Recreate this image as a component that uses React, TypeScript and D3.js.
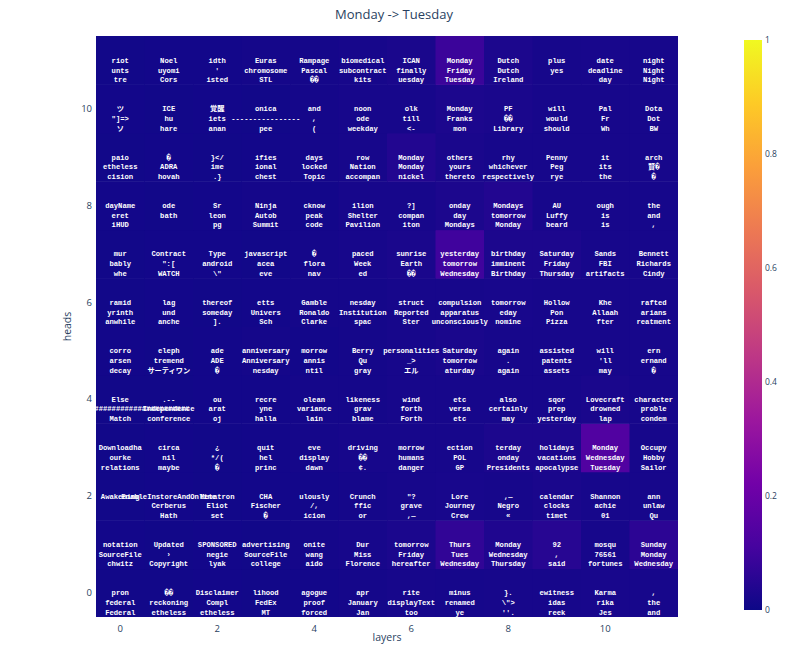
import { useEffect, useRef } from "react"
import * as d3 from "d3"

// layers along x, heads along y
const layers = d3.range(12)
const heads = d3.range(12)
const xTicks = [0, 2, 4, 6, 8, 10]
const yTicks = [0, 2, 4, 6, 8, 10]
const barTicks = [0, 0.2, 0.4, 0.6, 0.8, 1]

// plotly "Plasma"
const plasma = ["#0d0887", "#46039f", "#7201a8", "#9c179e", "#bd3786", "#d8576b", "#ed7953", "#fb9f3a", "#fdca26", "#f0f921"]

// probability of the target token, one array per head (index = layer)
const head0Values = [0.01, 0.01, 0.012, 0.01, 0.012, 0.015, 0.02, 0.018, 0.02, 0.02, 0.022, 0.02]
const head1Values = [0.012, 0.01, 0.012, 0.01, 0.015, 0.02, 0.028, 0.07, 0.035, 0.05, 0.02, 0.06]
const head2Values = [0.01, 0.012, 0.01, 0.012, 0.012, 0.015, 0.02, 0.022, 0.02, 0.025, 0.02, 0.02]
const head3Values = [0.01, 0.012, 0.01, 0.012, 0.015, 0.02, 0.02, 0.02, 0.03, 0.03, 0.14, 0.02]
const head4Values = [0.01, 0.01, 0.012, 0.012, 0.015, 0.015, 0.02, 0.02, 0.02, 0.02, 0.025, 0.02]
const head5Values = [0.012, 0.01, 0.012, 0.015, 0.012, 0.015, 0.02, 0.025, 0.02, 0.02, 0.02, 0.02]
const head6Values = [0.01, 0.012, 0.01, 0.012, 0.015, 0.015, 0.02, 0.02, 0.022, 0.02, 0.02, 0.02]
const head7Values = [0.01, 0.012, 0.012, 0.01, 0.015, 0.02, 0.025, 0.1, 0.03, 0.03, 0.02, 0.02]
const head8Values = [0.012, 0.01, 0.012, 0.015, 0.012, 0.02, 0.02, 0.03, 0.04, 0.02, 0.02, 0.018]
const head9Values = [0.01, 0.012, 0.01, 0.012, 0.015, 0.02, 0.04, 0.025, 0.02, 0.02, 0.02, 0.02]
const head10Values = [0.012, 0.01, 0.012, 0.01, 0.015, 0.02, 0.02, 0.03, 0.025, 0.02, 0.02, 0.02]
const head11Values = [0.01, 0.012, 0.012, 0.015, 0.015, 0.02, 0.025, 0.09, 0.03, 0.02, 0.022, 0.02]
const values = [head0Values, head1Values, head2Values, head3Values, head4Values, head5Values,
  head6Values, head7Values, head8Values, head9Values, head10Values, head11Values]

// top-3 decoded tokens, one array per head (index = layer), lines split by "\n"
const head0Tokens = ["pron\nfederal\nFederal", "��\nreckoning\netheless", "Disclaimer\nCompl\netheless", "lihood\nFedEx\nMT", "agogue\nproof\nforced", "apr\nJanuary\nJan", "rite\ndisplayText\ntoo", "minus\nrenamed\nye", "}.\n\\\">\n''.", "ewitness\nidas\nreek", "Karma\nrika\nJes", ",\nthe\nand"]
const head1Tokens = ["notation\nSourceFile\nchwitz", "Updated\n›\nCopyright", "SPONSORED\nnegie\nlyak", "advertising\nSourceFile\ncollege", "onite\nwang\naido", "Dur\nMiss\nFlorence", "tomorrow\nFriday\nhereafter", "Thurs\nTues\nWednesday", "Monday\nWednesday\nThursday", "92\n,\nsaid", "mosqu\n76561\nfortunes", "Sunday\nMonday\nWednesday"]
const head2Tokens = ["Awakening\n\n", "EnableInstoreAndOnline\nCerberus\nHath", "Metatron\nEliot\nset", "CHA\nFischer\n�", "ulously\n/,\nicion", "Crunch\nffic\nor", "\"?\ngrave\n,—", "Lore\nJourney\nCrew", ",—\nNegro\n«", "calendar\nclocks\ntimet", "Shannon\nachie\n01", "ann\nunlaw\nQu"]
const head3Tokens = ["Downloadha\nourke\nrelations", "circa\nnil\nmaybe", "¿\n*/(\n�", "quit\nhel\nprinc", "eve\ndisplay\ndawn", "driving\n��\n¢.", "morrow\nhumans\ndanger", "ection\nPOL\nGP", "terday\nonday\nPresidents", "holidays\nvacations\napocalypse", "Monday\nWednesday\nTuesday", "Occupy\nHobby\nSailor"]
const head4Tokens = ["Else\n################################\nMatch", ".--\nIndependence\nconference", "ou\narat\noj", "recre\nyne\nhalla", "olean\nvariance\nlain", "likeness\ngrav\nblame", "wind\nforth\nForth", "etc\nversa\netc", "also\ncertainly\nmay", "sqor\nprep\nyesterday", "Lovecraft\ndrowned\nlap", "character\nproble\ncondem"]
const head5Tokens = ["corro\narsen\ndecay", "eleph\ntremend\nサーティワン", "ade\nADE\n�", "anniversary\nAnniversary\nnesday", "morrow\nannis\nntil", "Berry\nQu\ngray", "personalities\n_>\nエル", "Saturday\ntomorrow\naturday", "again\n.\nagain", "assisted\npatents\nassets", "will\n'll\nmay", "ern\nernand\n�"]
const head6Tokens = ["ramid\nyrinth\nanwhile", "lag\nund\nanche", "thereof\nsomeday\n].", "etts\nUnivers\nSch", "Gamble\nRonaldo\nClarke", "nesday\nInstitution\nspac", "struct\nReported\nSter", "compulsion\napparatus\nunconsciously", "tomorrow\neday\nnomine", "Hollow\nPon\nPizza", "Khe\nAllaah\nfter", "rafted\narians\nreatment"]
const head7Tokens = ["mur\nbably\nwhe", "Contract\n\":[\nWATCH", "Type\nandroid\n\\\"", "javascript\nacea\neve", "�\nflora\nnav", "paced\nWeek\ned", "sunrise\nEarth\n��", "yesterday\ntomorrow\nWednesday", "birthday\nimminent\nBirthday", "Saturday\nFriday\nThursday", "Sands\nFBI\nartifacts", "Bennett\nRichards\nCindy"]
const head8Tokens = ["dayName\neret\niHUD", "ode\nbath\n", "Sr\nleon\npg", "Ninja\nAutob\nSummit", "cknow\npeak\ncode", "ilion\nShelter\nPavilion", "?]\ncompan\niton", "onday\nday\nMondays", "Mondays\ntomorrow\nMonday", "AU\nLuffy\nbeard", "ough\nis\nis", "the\nand\n,"]
const head9Tokens = ["paio\netheless\ncision", "�\nADRA\nhovah", "}</\nime\n.}", "ifies\nional\nchest", "days\nlocked\nTopic", "row\nNation\naccompan", "Monday\nMonday\nnickel", "others\nyours\nthereto", "rhy\nwhichever\nrespectively", "Penny\nPeg\nrye", "it\nits\nthe", "arch\n賢�\n�"]
const head10Tokens = ["ツ\n\"]=>\nソ", "ICE\nhu\nhare", "覚醒\niets\nanan", "onica\n----------------\npee", "and\n,\n(", "noon\node\nweekday", "olk\ntill\n<-", "Monday\nFranks\nmon", "PF\n��\nLibrary", "will\nwould\nshould", "Pal\nFr\nWh", "Dota\nDot\nBW"]
const head11Tokens = ["riot\nunts\ntre", "Noel\nuyomi\nCors", "idth\n'\nisted", "Euras\nchromosome\nSTL", "Rampage\nPascal\n��", "biomedical\nsubcontract\nkits", "ICAN\nfinally\nuesday", "Monday\nFriday\nTuesday", "Dutch\nDutch\nIreland", "plus\nyes\n", "date\ndeadline\nday", "night\nNight\nNight"]
const tokens = [head0Tokens, head1Tokens, head2Tokens, head3Tokens, head4Tokens, head5Tokens,
  head6Tokens, head7Tokens, head8Tokens, head9Tokens, head10Tokens, head11Tokens]

const width = 788
const height = 666
const margin = { top: 36, right: 110, bottom: 49, left: 96 }
const labelColor = "#2a3f5f"
const uiFont = "'Open Sans', 'Noto Sans', sans-serif"

export default function App() {
  const svgRef = useRef<SVGSVGElement>(null)

  useEffect(() => {
    if (!svgRef.current) return
    const svg = d3.select(svgRef.current)
    svg.selectAll("*").remove()

    const x = d3.scaleLinear().domain([-0.5, 11.5]).range([margin.left, width - margin.right])
    const y = d3.scaleLinear().domain([-0.5, 11.5]).range([height - margin.bottom, margin.top])
    const color = d3.scaleLinear<string>()
      .domain(d3.range(plasma.length).map((i) => i / (plasma.length - 1)))
      .range(plasma)
      .interpolate(d3.interpolateRgb)
      .clamp(true)

    svg.append("rect").attr("width", width).attr("height", height).attr("fill", "#fff")

    const defs = svg.append("defs")
    defs.append("clipPath").attr("id", "plot-clip")
      .append("rect")
      .attr("x", x(-0.5)).attr("y", y(11.5))
      .attr("width", x(11.5) - x(-0.5)).attr("height", y(-0.5) - y(11.5))

    const cells = heads.flatMap((h) => layers.map((l) => ({ h, l, v: values[h][l], t: tokens[h][l] })))

    const plot = svg.append("g").attr("clip-path", "url(#plot-clip)")

    plot.selectAll("rect.cell")
      .data(cells)
      .enter()
      .append("rect")
      .attr("class", "cell")
      .attr("x", (d) => x(d.l - 0.5))
      .attr("y", (d) => y(d.h + 0.5))
      .attr("width", x(0.5) - x(-0.5) + 0.5)
      .attr("height", y(-0.5) - y(0.5) + 0.5)
      .attr("fill", (d) => color(d.v))

    const lineGap = 9.7
    const txt = plot.selectAll("text.cell-text")
      .data(cells)
      .enter()
      .append("text")
      .attr("class", "cell-text")
      .attr("text-anchor", "middle")
      .attr("font-family", "'Liberation Mono', 'DejaVu Sans Mono', 'Noto Sans CJK JP', monospace")
      .attr("font-size", 7.2)
      .attr("font-weight", "bold")
      .attr("fill", "#fff")
    txt.selectAll("tspan")
      .data((d) => d.t.split("\n").map((s, i) => ({ s, i, d })))
      .enter()
      .append("tspan")
      .attr("x", (p) => x(p.d.l))
      .attr("y", (p) => y(p.d.h) + p.i * lineGap + 2.6)
      .text((p) => p.s)

    // x axis labels
    svg.append("g")
      .selectAll("text")
      .data(xTicks)
      .enter()
      .append("text")
      .attr("x", (d) => x(d))
      .attr("y", height - margin.bottom + 15)
      .attr("text-anchor", "middle")
      .attr("font-family", uiFont)
      .attr("font-size", 9.5)
      .attr("fill", labelColor)
      .text((d) => d)

    svg.append("g")
      .selectAll("text")
      .data(yTicks)
      .enter()
      .append("text")
      .attr("x", margin.left - 4)
      .attr("y", (d) => y(d) + 3.3)
      .attr("text-anchor", "end")
      .attr("font-family", uiFont)
      .attr("font-size", 9.5)
      .attr("fill", labelColor)
      .text((d) => d)

    svg.append("text")
      .attr("x", (x(-0.5) + x(11.5)) / 2)
      .attr("y", 641)
      .attr("text-anchor", "middle")
      .attr("font-family", uiFont)
      .attr("font-size", 10.5)
      .attr("fill", labelColor)
      .text("layers")

    svg.append("text")
      .attr("transform", `translate(71, ${(y(-0.5) + y(11.5)) / 2}) rotate(-90)`)
      .attr("text-anchor", "middle")
      .attr("font-family", uiFont)
      .attr("font-size", 10.5)
      .attr("fill", labelColor)
      .text("heads")

    svg.append("text")
      .attr("x", 394)
      .attr("y", 19)
      .attr("text-anchor", "middle")
      .attr("font-family", uiFont)
      .attr("font-size", 13)
      .attr("fill", labelColor)
      .text("Monday -> Tuesday")

    // colorbar
    const barX = 744
    const barW = 18
    const bar = d3.scaleLinear().domain([0, 1]).range([610, 40])
    const grad = defs.append("linearGradient")
      .attr("id", "plasma-grad")
      .attr("x1", "0%").attr("y1", "100%").attr("x2", "0%").attr("y2", "0%")
    plasma.forEach((c, i) => {
      grad.append("stop").attr("offset", `${(i / (plasma.length - 1)) * 100}%`).attr("stop-color", c)
    })
    svg.append("rect")
      .attr("x", barX)
      .attr("y", bar(1))
      .attr("width", barW)
      .attr("height", bar(0) - bar(1))
      .attr("fill", "url(#plasma-grad)")

    svg.append("g")
      .selectAll("text")
      .data(barTicks)
      .enter()
      .append("text")
      .attr("x", barX + barW + 3)
      .attr("y", (d) => bar(d) + 3)
      .attr("font-family", uiFont)
      .attr("font-size", 8.5)
      .attr("fill", labelColor)
      .text((d) => d)
  }, [])

  return (
    <div style={{ position: "absolute", left: 0, top: 0 }}>
      <svg ref={svgRef} width={width} height={height} />
    </div>
  )
}
